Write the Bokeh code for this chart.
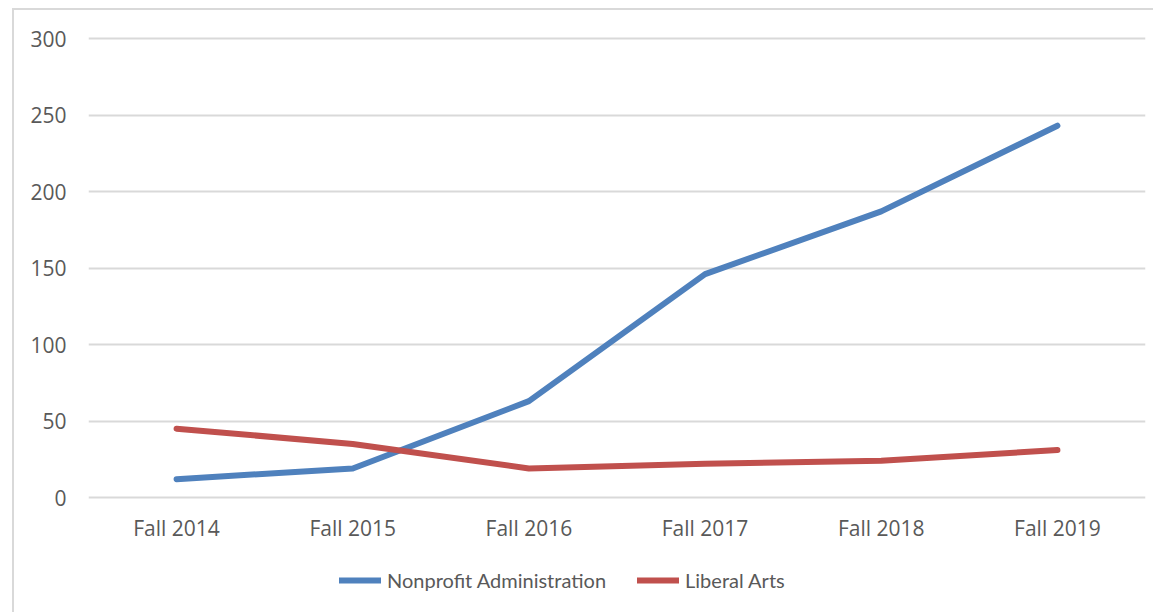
from bokeh.plotting import figure
from bokeh.models import FactorRange, Range1d, FixedTicker, Legend, LegendItem
from bokeh.embed import file_html
from bokeh.resources import INLINE

categories = ["Fall 2014", "Fall 2015", "Fall 2016", "Fall 2017", "Fall 2018", "Fall 2019"]
nonprofit = [12, 19, 63, 146, 187, 243]
liberal_arts = [45, 35, 19, 22, 24, 31]
y_ticks = [0, 50, 100, 150, 200, 250, 300]

FONT = "Open Sans"
TXT = "#595959"

p = figure(width=1141, height=604, output_backend="svg", toolbar_location=None,
           x_range=FactorRange(factors=categories, range_padding=0),
           y_range=Range1d(-76.47, 301.31),
           min_border_left=74, min_border_right=10, min_border_top=26, min_border_bottom=0)
p.outline_line_color = None
p.background_fill_color = "white"
p.border_fill_color = "white"
p.styles = {"border-top": "2px solid #d9d9d9", "border-left": "2px solid #d9d9d9",
            "margin-left": "12px", "margin-top": "8px"}

p.xgrid.grid_line_color = None
p.ygrid.grid_line_color = "#d9d9d9"
p.ygrid.grid_line_width = 2
p.yaxis.ticker = FixedTicker(ticks=y_ticks)
p.xaxis.fixed_location = 0

for ax in (p.xaxis, p.yaxis):
    ax.axis_line_color = None
    ax.major_tick_line_color = None
    ax.minor_tick_line_color = None
    ax.major_tick_out = 0
    ax.major_tick_in = 0
    ax.major_label_text_font = FONT
    ax.major_label_text_font_size = "21px"
    ax.major_label_text_color = TXT
p.yaxis.major_label_standoff = 22
p.xaxis.major_label_standoff = 16

r1 = p.line(categories, nonprofit, line_color="#4f81bd", line_width=6, line_cap="round", line_join="round")
r2 = p.line(categories, liberal_arts, line_color="#c0504d", line_width=6, line_cap="round", line_join="round")

legend = Legend(items=[LegendItem(label="Nonprofit Administration", renderers=[r1]),
                       LegendItem(label="Liberal Arts", renderers=[r2])],
                orientation="horizontal", location=(251, 22))
legend.background_fill_alpha = 0
legend.border_line_color = None
legend.padding = 0
legend.margin = 0
legend.spacing = 31
legend.glyph_width = 42
legend.glyph_height = 24
legend.label_height = 24
legend.label_standoff = 6
legend.label_text_font = "Lato"
legend.label_text_font_size = "20px"
legend.label_text_color = TXT
p.add_layout(legend, "center")

open("out.html", "w").write(file_html(p, INLINE))
